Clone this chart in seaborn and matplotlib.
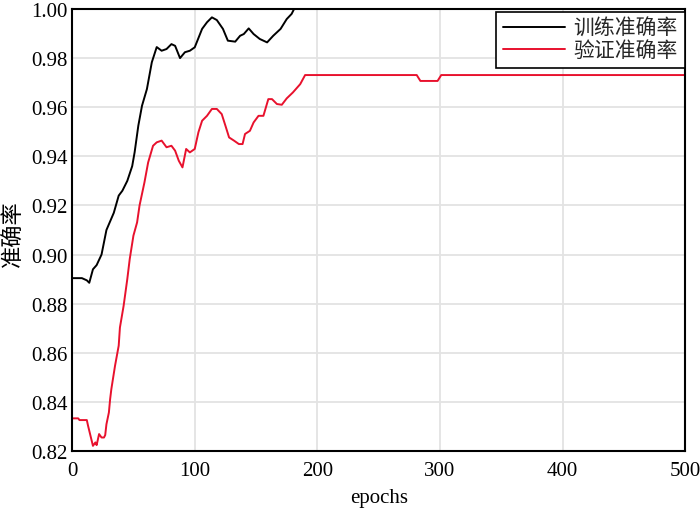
import numpy as np
import pandas as pd
import matplotlib
matplotlib.use("Agg")
import matplotlib.pyplot as plt
import seaborn as sns

# ---- data ----
train_epochs = [0, 8, 12, 14, 17, 20, 24, 28, 34, 38, 41, 45, 49, 51, 54, 57, 61, 65, 69, 73, 77,
                81, 84, 88, 92, 96, 100, 106, 110, 114, 118, 123, 127, 133, 137, 140, 144, 148,
                153, 159, 164, 170, 175, 179, 181, 500]
train_acc = [0.8904, 0.8904, 0.8895, 0.8885, 0.8940, 0.8957, 0.9000, 0.9100, 0.9170, 0.9240,
             0.9260, 0.9300, 0.9360, 0.9417, 0.9525, 0.9606, 0.9674, 0.9783, 0.9845, 0.9830,
             0.9837, 0.9857, 0.9850, 0.9800, 0.9824, 0.9830, 0.9844, 0.9919, 0.9946, 0.9966,
             0.9955, 0.9919, 0.9871, 0.9867, 0.9891, 0.9898, 0.9921, 0.9898, 0.9878, 0.9864,
             0.9891, 0.9919, 0.9959, 0.9980, 1.0000, 1.0000]

val_epochs = [0, 5, 6, 12, 13, 15, 17, 19, 20, 22, 24, 26, 27, 28, 30, 31, 32, 35, 38, 39, 42,
              45, 47, 50, 53, 55, 59, 62, 66, 69, 73, 77, 81, 84, 87, 90, 93, 96, 100, 103, 106,
              110, 114, 118, 122, 125, 128, 132, 136, 139, 141, 145, 148, 152, 156, 160, 163,
              167, 171, 175, 180, 186, 190, 281, 284, 298, 301, 500]
val_acc = [0.8333, 0.8333, 0.8326, 0.8326, 0.8303, 0.8262, 0.8221, 0.8235, 0.8224, 0.8269,
           0.8255, 0.8255, 0.8265, 0.8309, 0.8357, 0.8411, 0.8452, 0.8547, 0.8629, 0.8703,
           0.8791, 0.8900, 0.8982, 0.9077, 0.9131, 0.9200, 0.9294, 0.9375, 0.9443, 0.9457,
           0.9464, 0.9437, 0.9443, 0.9423, 0.9382, 0.9355, 0.9430, 0.9416, 0.9430, 0.9498,
           0.9545, 0.9565, 0.9593, 0.9593, 0.9572, 0.9525, 0.9477, 0.9464, 0.9450, 0.9450,
           0.9491, 0.9504, 0.9538, 0.9565, 0.9565, 0.9633, 0.9633, 0.9613, 0.9610, 0.9636,
           0.9660, 0.9694, 0.9731, 0.9731, 0.9707, 0.9707, 0.9731, 0.9731]

series_names = ["训练准确率", "验证准确率"]
series_colors = ["#000000", "#e8112d"]

y_ticks = [0.82, 0.84, 0.86, 0.88, 0.90, 0.92, 0.94, 0.96, 0.98, 1.00]
x_ticks = [0, 100, 200, 300, 400, 500]

df = pd.concat([
    pd.DataFrame({"epochs": train_epochs, "acc": train_acc, "series": series_names[0]}),
    pd.DataFrame({"epochs": val_epochs, "acc": val_acc, "series": series_names[1]}),
], ignore_index=True)

sns.set_theme(style="whitegrid")
fam = ["Liberation Serif", "Noto Sans CJK SC"]
plt.rcParams["font.family"] = fam
plt.rcParams["axes.unicode_minus"] = False

fig = plt.figure(figsize=(7.0, 5.1), dpi=100)
ax = fig.add_axes([0.103, 0.1137, 0.876, 0.8667])

sns.lineplot(data=df, x="epochs", y="acc", hue="series", hue_order=series_names,
             palette=series_colors, linewidth=1.4, ax=ax, estimator=None, sort=False)

ax.set_xlim(0, 500)
ax.set_ylim(0.82, 1.00)
ax.set_xticks(x_ticks)
ax.set_yticks(y_ticks)
ax.set_yticklabels([f"{v:.2f}" for v in y_ticks])
ax.tick_params(axis="both", length=0, labelsize=15, colors="black")
ax.tick_params(axis="x", pad=7)
ax.tick_params(axis="y", pad=3)
for lab in ax.get_xticklabels() + ax.get_yticklabels():
    lab.set_family(fam)

ax.grid(True, color="#e3e3e3", linewidth=1.3)
ax.set_axisbelow(True)
for sp in ax.spines.values():
    sp.set_color("black")
    sp.set_linewidth(1.5)
    sp.set_zorder(5)

ax.set_xlabel("epochs", fontsize=15, family=fam, color="black", labelpad=6)
ax.set_ylabel("准确率", fontsize=16, family=fam, color="black")
ax.yaxis.set_label_coords(-0.077, 0.495)

leg = ax.legend(loc="upper right", bbox_to_anchor=(1.0, 0.994), fontsize=15,
                frameon=True, fancybox=False, framealpha=1, edgecolor="black",
                handlelength=3.0, handletextpad=0.4, borderpad=0.35, labelspacing=0.1,
                borderaxespad=0.0, prop={"family": fam, "size": 15})
leg.get_frame().set_linewidth(1.2)
leg.set_title(None)

fig.savefig("out.png", dpi=100)
